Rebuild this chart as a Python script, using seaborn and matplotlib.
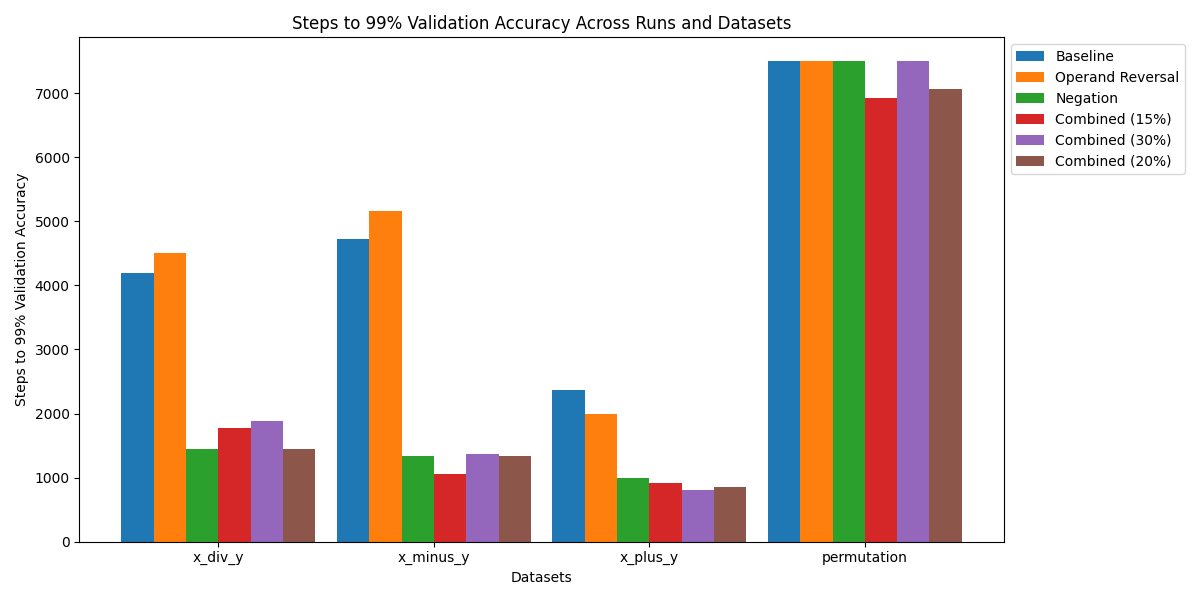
import pandas as pd
import numpy as np
import matplotlib
matplotlib.use('Agg')
import matplotlib.pyplot as plt
import seaborn as sns

datasets = ['x_div_y', 'x_minus_y', 'x_plus_y', 'permutation']
runs = ['Baseline', 'Operand Reversal', 'Negation', 'Combined (15%)', 'Combined (30%)', 'Combined (20%)']

baseline = [4200, 4730, 2370, 7500]
operand_reversal = [4510, 5170, 2000, 7500]
negation = [1450, 1340, 1000, 7500]
combined_15 = [1780, 1060, 920, 6930]
combined_30 = [1890, 1370, 800, 7500]
combined_20 = [1450, 1340, 860, 7070]

colors = ['#1f77b4', '#ff7f0e', '#2ca02c', '#d62728', '#9467bd', '#8c564b']

series = [baseline, operand_reversal, negation, combined_15, combined_30, combined_20]
rows = []
for run, vals in zip(runs, series):
    for d, v in zip(datasets, vals):
        rows.append({'Dataset': d, 'Run': run, 'Steps': v})
df = pd.DataFrame(rows)

fig, ax = plt.subplots(figsize=(12, 6), dpi=100)
sns.barplot(data=df, x='Dataset', y='Steps', hue='Run', order=datasets, hue_order=runs,
            palette=colors, width=0.9, gap=0, saturation=1, errorbar=None, ax=ax)

# matplotlib-style x margins instead of seaborn's categorical limits
pad = 0.05 * (len(datasets) - 1 + 0.9)
ax.set_xlim(-0.45 - pad, len(datasets) - 1 + 0.45 + pad)

ax.set_title('Steps to 99% Validation Accuracy Across Runs and Datasets')
ax.set_xlabel('Datasets')
ax.set_ylabel('Steps to 99% Validation Accuracy')
handles, labels = ax.get_legend_handles_labels()
ax.legend(handles, labels, loc='upper left', bbox_to_anchor=(1, 1))
plt.tight_layout()
plt.savefig('out.png')
